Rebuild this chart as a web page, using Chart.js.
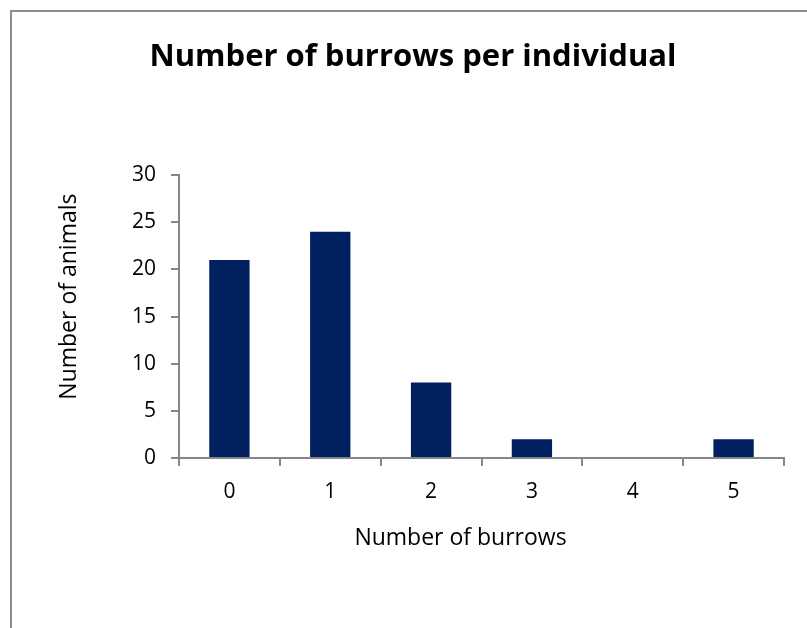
<!DOCTYPE html>
<html lang="en">
<head>
    <meta charset="UTF-8">
    <title>Number of burrows per individual</title>
    <script src="https://cdn.jsdelivr.net/npm/chart.js"></script>
    <style>
        html, body { margin: 0; padding: 0; background: #fff; }
        .wrap { position: relative; width: 807px; height: 628px; }
        .frame { position: absolute; left: 10px; top: 10px; right: -5px; bottom: -5px; border: 2px solid #8c8c8c; }
        canvas { position: absolute; left: 0; top: 0; }
    </style>
</head>
<body>
    <div class="wrap">
        <div class="frame"></div>
        <canvas id="burrowChart" width="807" height="628"></canvas>
    </div>
    <script>
    // categories and counts
    const burrowCounts = ['0', '1', '2', '3', '4', '5'];
    const animals = [21, 24, 8, 2, 0, 2];
    const yTicks = [0, 5, 10, 15, 20, 25, 30];

    const axisGrey = '#868686';
    const fontFamily = "'Open Sans', 'Noto Sans', sans-serif";

    // axis titles sit a little off-centre in the original, so draw them by hand
    const axisTitles = {
        id: 'axisTitles',
        afterDraw(chart) {
            const a = chart.chartArea;
            const c = chart.ctx;
            c.save();
            c.fillStyle = '#000';
            c.font = '23px ' + fontFamily;
            c.textAlign = 'center';
            c.textBaseline = 'middle';
            c.fillText('Number of burrows', (a.left + a.right) / 2 - 21, a.bottom + 80);
            c.translate(69, (a.top + a.bottom) / 2 - 20);
            c.rotate(-Math.PI / 2);
            c.fillText('Number of animals', 0, 0);
            c.restore();
        }
    };

    const ctx = document.getElementById('burrowChart').getContext('2d');
    new Chart(ctx, {
        type: 'bar',
        data: {
            labels: burrowCounts,
            datasets: [{
                data: animals,
                backgroundColor: '#002060',
                categoryPercentage: 1,
                barPercentage: 0.4
            }]
        },
        plugins: [axisTitles],
        options: {
            responsive: false,
            animation: false,
            layout: { padding: { left: 42, right: 23, top: 0, bottom: 0 } },
            plugins: {
                legend: { display: false },
                tooltip: { enabled: false },
                title: {
                    display: true,
                    text: 'Number of burrows per individual',
                    color: '#000',
                    font: { family: fontFamily, size: 31, weight: 'bold', lineHeight: 1.2 },
                    padding: { top: 39, bottom: 99 }
                }
            },
            scales: {
                x: {
                    afterFit: s => { s.height = 170; },
                    grid: { drawOnChartArea: false, tickLength: 8, color: axisGrey, lineWidth: 2 },
                    border: { color: axisGrey, width: 2 },
                    ticks: { color: '#000', padding: 13, font: { family: fontFamily, size: 21 } }
                },
                y: {
                    min: 0,
                    max: 30,
                    afterFit: s => { s.width = 137; },
                    afterBuildTicks: s => { s.ticks = yTicks.map(v => ({ value: v })); },
                    grid: { drawOnChartArea: false, tickLength: 8, color: axisGrey, lineWidth: 2 },
                    border: { color: axisGrey, width: 2 },
                    ticks: { color: '#000', padding: 15, font: { family: fontFamily, size: 21 } }
                }
            }
        }
    });
    </script>
</body>
</html>
